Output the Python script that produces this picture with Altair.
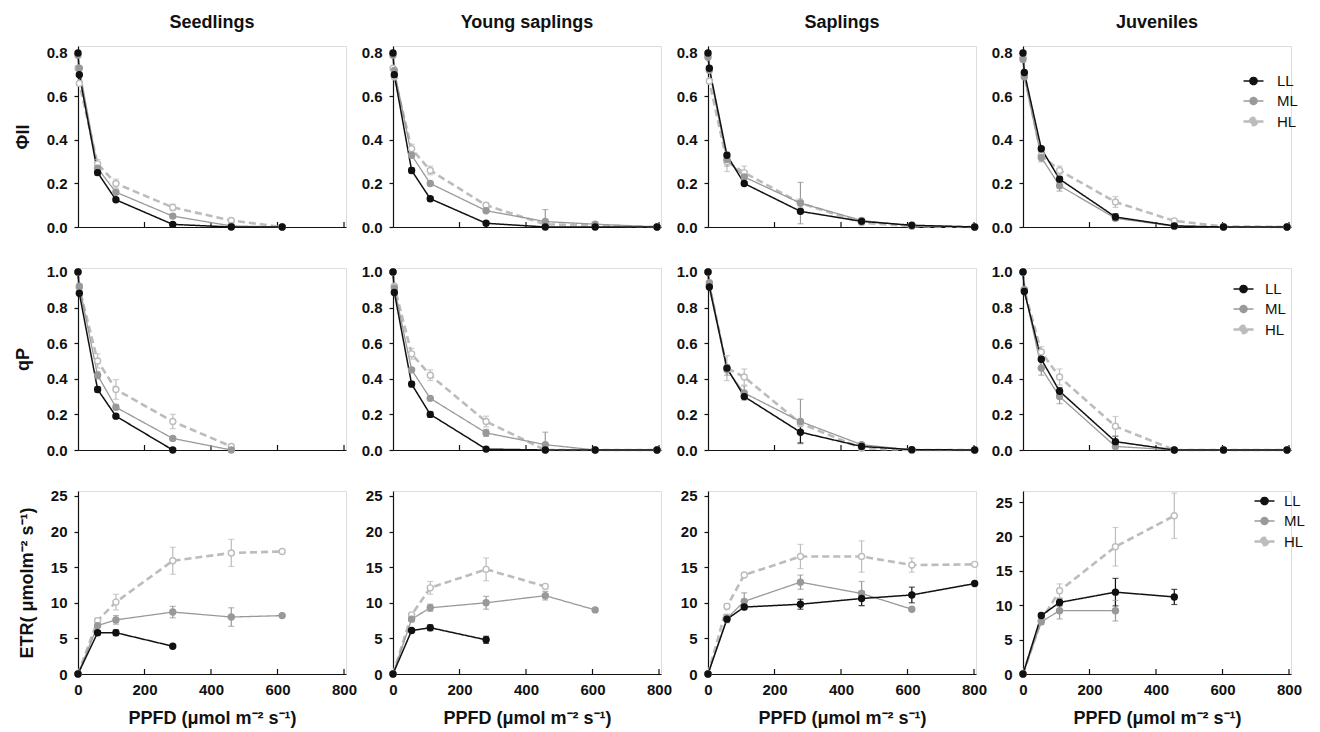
import altair as alt
import pandas as pd

FONT = "Liberation Sans"

STAGES = ["Seedlings", "Young saplings", "Saplings", "Juveniles"]
STAGE_KEYS = ["SD", "YS", "SP", "JV"]
PARAMS = ["PHI", "QP", "ETR"]
SERIES = ["LL", "ML", "HL"]

# PPFD levels (umol m-2 s-1) per stage
PPFD_SD = [0, 4, 59, 114, 285, 461, 614]
PPFD_YS = [0, 4, 56, 112, 280, 458, 608, 794]
PPFD_SP = [0, 4, 57, 109, 278, 462, 613, 802]
PPFD_JV = [0, 4, 55, 110, 278, 455, 603, 794]

# Phi II
PHI_SD_LL = [0.80, 0.70, 0.25, 0.125, 0.012, 0.0, 0.0]
PHI_SD_ML = [0.79, 0.73, 0.27, 0.16, 0.05, 0.005, 0.0]
PHI_SD_HL = [0.73, 0.66, 0.29, 0.20, 0.09, 0.03, 0.0]
PHI_SD_LL_SE = [0, 0, 0.012, 0.008, 0.005, 0, 0]
PHI_SD_ML_SE = [0, 0, 0.015, 0.01, 0.008, 0, 0]
PHI_SD_HL_SE = [0, 0, 0.02, 0.02, 0.015, 0.005, 0]

PHI_YS_LL = [0.80, 0.70, 0.26, 0.13, 0.017, 0.0, 0.0, 0.0]
PHI_YS_ML = [0.79, 0.72, 0.33, 0.20, 0.075, 0.025, 0.013, 0.0]
PHI_YS_HL = [0.73, 0.69, 0.36, 0.26, 0.10, 0.012, 0.008, 0.0]
PHI_YS_LL_SE = [0, 0, 0.012, 0.01, 0, 0, 0, 0]
PHI_YS_ML_SE = [0, 0, 0.01, 0.008, 0.008, 0.055, 0, 0]
PHI_YS_HL_SE = [0, 0, 0.02, 0.02, 0.01, 0, 0, 0]

PHI_SP_LL = [0.80, 0.73, 0.33, 0.20, 0.072, 0.026, 0.008, 0.0]
PHI_SP_ML = [0.78, 0.72, 0.31, 0.23, 0.11, 0.03, 0.005, 0.0]
PHI_SP_HL = [0.79, 0.67, 0.30, 0.25, 0.11, 0.02, 0.004, 0.0]
PHI_SP_LL_SE = [0, 0, 0.01, 0.008, 0.01, 0.005, 0, 0]
PHI_SP_ML_SE = [0, 0, 0.03, 0.02, 0.095, 0.008, 0, 0]
PHI_SP_HL_SE = [0, 0, 0.045, 0.03, 0.02, 0.005, 0, 0]

PHI_JV_LL = [0.80, 0.71, 0.36, 0.22, 0.046, 0.005, 0.0, 0.0]
PHI_JV_ML = [0.77, 0.69, 0.32, 0.19, 0.04, 0.004, 0.0, 0.0]
PHI_JV_HL = [0.78, 0.70, 0.33, 0.26, 0.115, 0.028, 0.003, 0.0]
PHI_JV_LL_SE = [0, 0, 0.01, 0.012, 0.015, 0, 0, 0]
PHI_JV_ML_SE = [0, 0, 0.02, 0.025, 0.01, 0, 0, 0]
PHI_JV_HL_SE = [0, 0, 0.02, 0.02, 0.025, 0.008, 0, 0]

# qP
QP_SD_LL = [1.0, 0.88, 0.34, 0.19, 0.0, None, None]
QP_SD_ML = [1.0, 0.92, 0.42, 0.24, 0.065, 0.0, None]
QP_SD_HL = [1.0, 0.91, 0.50, 0.34, 0.16, 0.02, None]
QP_SD_LL_SE = [0, 0, 0.015, 0.01, 0, 0, 0]
QP_SD_ML_SE = [0, 0, 0.02, 0.015, 0.01, 0, 0]
QP_SD_HL_SE = [0, 0, 0.04, 0.055, 0.04, 0.01, 0]

QP_YS_LL = [1.0, 0.885, 0.37, 0.20, 0.005, 0.0, 0.0, 0.0]
QP_YS_ML = [1.0, 0.91, 0.45, 0.29, 0.096, 0.03, 0.0, 0.0]
QP_YS_HL = [1.0, 0.92, 0.54, 0.42, 0.16, 0.0, 0.0, 0.0]
QP_YS_LL_SE = [0, 0, 0.015, 0.015, 0, 0, 0, 0]
QP_YS_ML_SE = [0, 0, 0.01, 0.01, 0.02, 0.07, 0, 0]
QP_YS_HL_SE = [0, 0, 0.03, 0.03, 0.03, 0, 0, 0]

QP_SP_LL = [1.0, 0.915, 0.46, 0.30, 0.10, 0.02, 0.002, 0.0]
QP_SP_ML = [1.0, 0.94, 0.45, 0.32, 0.16, 0.03, 0.0, 0.0]
QP_SP_HL = [1.0, 0.93, 0.46, 0.41, 0.15, 0.01, 0.0, 0.0]
QP_SP_LL_SE = [0, 0, 0.01, 0.01, 0.06, 0.01, 0, 0]
QP_SP_ML_SE = [0, 0, 0.03, 0.04, 0.125, 0.01, 0, 0]
QP_SP_HL_SE = [0, 0, 0.07, 0.045, 0.02, 0, 0, 0]

QP_JV_LL = [1.0, 0.89, 0.51, 0.33, 0.047, 0.0, 0.0, 0.0]
QP_JV_ML = [1.0, 0.90, 0.46, 0.30, 0.02, 0.0, 0.0, 0.0]
QP_JV_HL = [1.0, 0.90, 0.55, 0.41, 0.133, 0.0, 0.0, 0.0]
QP_JV_LL_SE = [0, 0, 0.01, 0.02, 0.03, 0, 0, 0]
QP_JV_ML_SE = [0, 0, 0.04, 0.04, 0.01, 0, 0, 0]
QP_JV_HL_SE = [0, 0, 0.03, 0.045, 0.055, 0, 0, 0]

# ETR
ETR_SD_LL = [0.0, None, 5.8, 5.8, 3.9, None, None]
ETR_SD_ML = [0.0, None, 6.8, 7.6, 8.7, 8.0, 8.2]
ETR_SD_HL = [0.0, None, 7.5, 10.1, 15.9, 17.0, 17.2]
ETR_SD_LL_SE = [0, 0, 0.3, 0.4, 0, 0, 0]
ETR_SD_ML_SE = [0, 0, 0.3, 0.6, 0.8, 1.3, 0]
ETR_SD_HL_SE = [0, 0, 0.4, 1.1, 1.9, 1.9, 0]

ETR_YS_LL = [0.0, None, 6.1, 6.5, 4.8, None, None, None]
ETR_YS_ML = [0.0, None, 7.7, 9.3, 10.0, 11.0, 9.0, None]
ETR_YS_HL = [0.0, None, 8.3, 12.1, 14.7, 12.3, None, None]
ETR_YS_LL_SE = [0, 0, 0.2, 0.4, 0.5, 0, 0, 0]
ETR_YS_ML_SE = [0, 0, 0.3, 0.5, 0.9, 0.6, 0, 0]
ETR_YS_HL_SE = [0, 0, 0.3, 0.9, 1.6, 0, 0, 0]

ETR_SP_LL = [0.0, None, 7.7, 9.4, 9.8, 10.6, 11.1, 12.7]
ETR_SP_ML = [0.0, None, 7.8, 10.2, 12.9, 11.3, 9.1, None]
ETR_SP_HL = [0.0, None, 9.5, 13.9, 16.5, 16.5, 15.3, 15.4]
ETR_SP_LL_SE = [0, 0, 0.3, 0.3, 0.7, 1.0, 1.1, 0]
ETR_SP_ML_SE = [0, 0, 0.6, 1.2, 1.0, 1.7, 0, 0]
ETR_SP_HL_SE = [0, 0, 0.4, 0.3, 1.7, 2.2, 1.0, 0]

ETR_JV_LL = [0.0, None, 8.5, 10.4, 11.9, 11.2, None, None]
ETR_JV_ML = [0.0, None, 7.6, 9.2, 9.2, None, None, None]
ETR_JV_HL = [0.0, None, 7.8, 12.1, 18.5, 23.0, None, None]
ETR_JV_LL_SE = [0, 0, 0.3, 0.5, 2.0, 1.1, 0, 0]
ETR_JV_ML_SE = [0, 0, 0.4, 1.2, 1.5, 0, 0, 0]
ETR_JV_HL_SE = [0, 0, 0.3, 1.0, 2.8, 3.3, 0, 0]

X_TICKS = [0, 200, 400, 600, 800]
Y_TICKS = {"PHI": [0, 0.2, 0.4, 0.6, 0.8], "QP": [0, 0.2, 0.4, 0.6, 0.8, 1.0],
           "ETR": [0, 5, 10, 15, 20, 25]}
Y_TITLES = {"PHI": "ΦII", "QP": "qP", "ETR": "ETR( μmolm⁻² s⁻¹)"}
X_TITLE = "PPFD (μmol m⁻² s⁻¹)"

# styles
COLORS = ["#111111", "#999999", "#bcbcbc"]
FILLS = ["#111111", "#999999", "#ffffff"]
DASHES = [[1, 0], [1, 0], [7, 4]]
WIDTHS = [1.5, 1.3, 2.6]
SYMBOL = "M-1,0L-0.36,0M0.36,0L1,0M-0.36,0A0.36,0.36,0,1,1,0.36,0A0.36,0.36,0,1,1,-0.36,0Z"

Y_DOMAIN = {"PHI": [0, 0.832], "QP": [0, 1.022], "ETR": [0, 25.7]}
Y_DOMAIN_JV_ETR = [0, 26.6]
HEIGHTS = {"PHI": 181, "QP": 182, "ETR": 183}
WIDTH = 268
LEGEND_POS = {"PHI": (219, 24), "QP": (209, 10), "ETR": (230, -1)}
LEGEND_GAP = {"PHI": 12, "QP": 10, "ETR": 8}


def frame(skey, param):
    xs = globals()[f"PPFD_{skey}"]
    rows = []
    for ser in ["HL", "ML", "LL"]:
        vals = globals()[f"{param}_{skey}_{ser}"]
        errs = globals()[f"{param}_{skey}_{ser}_SE"]
        for x, v, e in zip(xs, vals, errs):
            if v is None:
                continue
            rows.append({"series": ser, "x": x, "y": v, "err": e,
                         "lo": max(0.0, v - e), "hi": v + e})
    return pd.DataFrame(rows)


def panel(stage, skey, param, col):
    df = frame(skey, param)
    dfe = df[df["err"] > 0]
    dft = pd.DataFrame({"x": X_TICKS[1:]})
    bottom = param == "ETR"
    xscale = alt.Scale(domain=[0, 806], nice=False)
    x = alt.X("x:Q", scale=xscale,
              axis=alt.Axis(values=X_TICKS, labels=bottom, ticks=False, labelFlush=False,
                            labelPadding=8, title=X_TITLE if bottom else None))
    ydom = Y_DOMAIN_JV_ETR if (param == "ETR" and skey == "JV") else Y_DOMAIN[param]
    yscale = alt.Scale(domain=ydom, nice=False)
    yaxis = alt.Axis(values=Y_TICKS[param], format=".1f" if param != "ETR" else "d",
                     labelFlush=False, title=Y_TITLES[param] if col == 0 else None)
    y = alt.Y("y:Q", scale=yscale, axis=yaxis)
    if col == 3:
        lx, ly = LEGEND_POS[param]
        leg = alt.Legend(orient="none", legendX=lx, legendY=ly, title=None,
                         symbolType=SYMBOL, symbolSize=400, symbolStrokeWidth=1.5,
                         labelFont=FONT, labelFontSize=15, labelColor="#111111",
                         labelOffset=LEGEND_GAP[param], rowPadding=1, padding=0)
    else:
        leg = None
    stroke = alt.Stroke("series:N", scale=alt.Scale(domain=SERIES, range=COLORS), legend=leg)
    fill = alt.Fill("series:N", scale=alt.Scale(domain=SERIES, range=FILLS), legend=leg)
    dash = alt.StrokeDash("series:N", scale=alt.Scale(domain=SERIES, range=DASHES), legend=leg)
    width = alt.StrokeWidth("series:O", sort=SERIES,
                            scale=alt.Scale(type="ordinal", domain=SERIES, range=WIDTHS),
                            legend=None)
    color = alt.Color("series:N", scale=alt.Scale(domain=SERIES, range=COLORS), legend=None)

    h = HEIGHTS[param]
    ticks = alt.Chart(dft).mark_rule(color="#111111", strokeWidth=1.2).encode(
        x=x, y=alt.value(h), y2=alt.value(h - 5))
    lines = alt.Chart(df).mark_line().encode(x=x, y=y, stroke=stroke, strokeDash=dash,
                                             strokeWidth=width)
    rules = alt.Chart(dfe).mark_rule(strokeWidth=1.2).encode(
        x=x, y=alt.Y("lo:Q", scale=yscale, axis=yaxis), y2="hi:Q", color=color)
    cap_hi = alt.Chart(dfe).mark_tick(orient="horizontal", size=6, thickness=1.2).encode(
        x=x, y=alt.Y("hi:Q", scale=yscale, axis=yaxis), color=color)
    cap_lo = alt.Chart(dfe).mark_tick(orient="horizontal", size=6, thickness=1.2).encode(
        x=x, y=alt.Y("lo:Q", scale=yscale, axis=yaxis), color=color)
    points = alt.Chart(df).mark_point(filled=True, size=36, strokeWidth=1.4, opacity=1).encode(
        x=x, y=y, stroke=stroke, fill=fill)
    ch = alt.layer(ticks, lines, rules, cap_hi, cap_lo, points).properties(
        width=WIDTH, height=h)
    if param == "PHI":
        ch = ch.properties(title=alt.TitleParams(text=stage, font=FONT, fontSize=18,
                                                 fontWeight="bold", frame="group",
                                                 anchor="middle", offset=14, color="#111111"))
    return ch


panels = []
for param in PARAMS:
    for col, (stage, skey) in enumerate(zip(STAGES, STAGE_KEYS)):
        panels.append(panel(stage, skey, param, col))

chart = alt.concat(*panels, columns=4, spacing={"row": 41, "column": 47},
                   bounds="flush", align="each").resolve_scale(
    stroke="independent", fill="independent", strokeDash="independent",
    strokeWidth="independent", color="independent").resolve_legend(
    stroke="independent", fill="independent", strokeDash="independent").configure_view(
    stroke=None).configure(font=FONT, padding={"left": 5, "top": 5, "right": 5, "bottom": 0}).configure_axis(
    grid=False, domainColor="#111111", domainWidth=1.2, tickColor="#111111", tickWidth=1.2,
    tickSize=4, labelFont=FONT, labelFontSize=15, labelFontWeight="bold",
    labelColor="#111111", titleFont=FONT, titleFontSize=18, titleFontWeight="bold",
    titleColor="#111111").configure_axisX(titlePadding=12).configure_axisY(
    labelPadding=7, titlePadding=14)

chart.save("out.html", embed_options={"renderer": "svg", "actions": False})
